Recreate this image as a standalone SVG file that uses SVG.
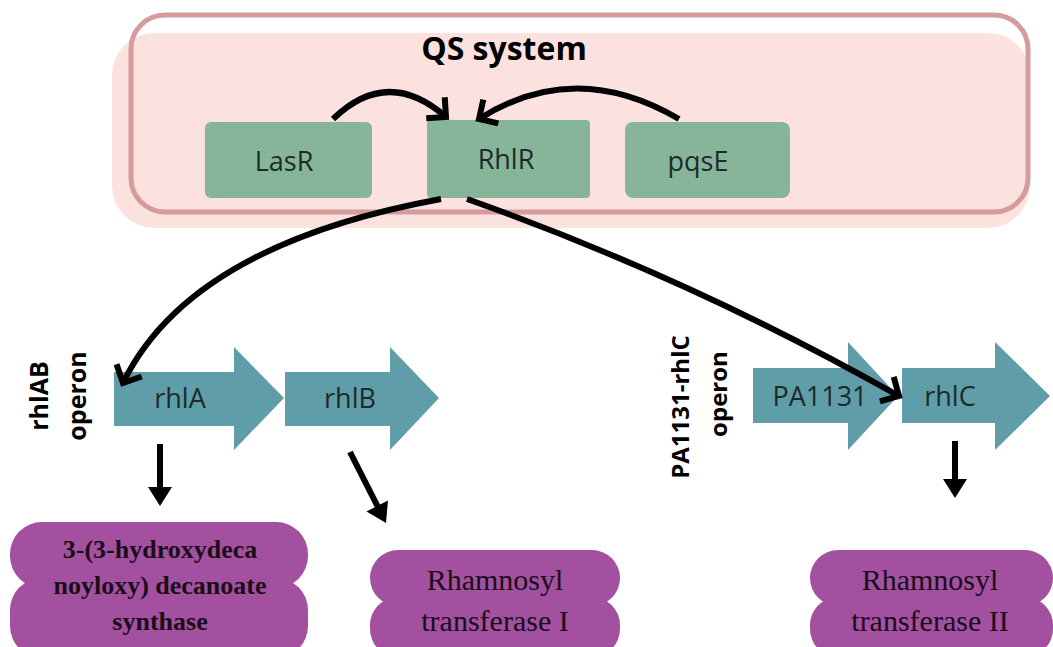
<svg xmlns="http://www.w3.org/2000/svg" width="1053" height="647" viewBox="0 0 1053 647">
<style>
.sans{font-family:"Open Sans","Noto Sans","Liberation Sans",sans-serif;fill:#1c2a2a}
.lbl{font-size:27px;text-anchor:middle}
.bold{font-weight:700;fill:#000}
.serif{font-family:"Liberation Serif","Times New Roman",serif;fill:#1a0d1a;text-anchor:middle}
.qs{fill:#86b59a}
.gene{fill:#5f9ea8}
.enz{fill:#a350a0}
.con{fill:none;stroke:#000;stroke-width:6;stroke-linecap:butt}
.head{fill:#000}
</style>
<defs>
<marker id="chev" markerUnits="userSpaceOnUse" viewBox="-20 -16 26 32" markerWidth="26" markerHeight="32" refX="0" refY="0" orient="auto" overflow="visible">
<path d="M-14,-14 L0,0 L-14,14" fill="none" stroke="#000" stroke-width="6" stroke-linejoin="miter"/>
</marker>
</defs>
<rect width="1053" height="647" fill="#fff"/>
<g id="qs-system">
<rect x="112" y="33" width="918" height="195" rx="42" fill="#fce2df"/>
<rect x="131" y="15" width="897" height="197" rx="34" fill="none" stroke="#d49c9c" stroke-width="5"/>
<text class="sans bold" x="504" y="60" font-size="32" text-anchor="middle">QS system</text>
</g>
<g id="LasR">
<rect class="qs" x="205" y="122" width="167" height="76" rx="6"/>
<text class="sans lbl" x="284" y="171">LasR</text>
</g>
<g id="RhlR">
<rect class="qs" x="427" y="120" width="163" height="78" rx="4"/>
<text class="sans lbl" x="506" y="169">RhlR</text>
</g>
<g id="pqsE">
<rect class="qs" x="625" y="122" width="165" height="76" rx="8"/>
<text class="sans lbl" x="698" y="171">pqsE</text>
</g>
<g id="rhlAB-operon">
<text class="sans bold" font-size="25" text-anchor="middle" transform="translate(48,396) rotate(-90)">rhlAB</text>
<text class="sans bold" font-size="25" text-anchor="middle" transform="translate(86,396) rotate(-90)">operon</text>
</g>
<g id="rhlA">
<path class="gene" d="M114,372 H234 V347 L284,398 L234,450 V426 H114 Z"/>
<text class="sans lbl" x="180" y="408">rhlA</text>
</g>
<g id="rhlB">
<path class="gene" d="M285,372 H390 V347 L439,398 L390,450 V426 H285 Z"/>
<text class="sans lbl" x="350" y="408">rhlB</text>
</g>
<g id="PA1131-rhlC-operon">
<text class="sans bold" font-size="24" text-anchor="middle" transform="translate(689,407) rotate(-90)">PA1131-rhlC</text>
<text class="sans bold" font-size="24" text-anchor="middle" transform="translate(727,394) rotate(-90)">operon</text>
</g>
<g id="PA1131">
<path class="gene" d="M753,368 H848 V342 L898,396 L848,450 V423 H753 Z"/>
<text class="sans lbl" x="820" y="406">PA1131</text>
</g>
<g id="rhlC">
<path class="gene" d="M902,368 H995 V342 L1050,396 L995,450 V423 H902 Z"/>
<text class="sans lbl" x="950" y="406">rhlC</text>
</g>
<g id="enzyme-1">
<rect class="enz" x="10" y="522" width="298" height="66" rx="32"/>
<rect class="enz" x="10" y="578" width="298" height="80" rx="32"/>
<text class="serif" font-weight="700" font-size="26" x="160" y="558">3-(3-hydroxydeca</text>
<text class="serif" font-weight="700" font-size="26" x="160" y="594">noyloxy) decanoate</text>
<text class="serif" font-weight="700" font-size="26" x="160" y="630">synthase</text>
</g>
<g id="enzyme-2">
<rect class="enz" x="370" y="550" width="250" height="56" rx="28"/>
<rect class="enz" x="370" y="597" width="250" height="60" rx="28"/>
<text class="serif" font-size="30" x="495" y="590">Rhamnosyl</text>
<text class="serif" font-size="30" x="495" y="631">transferase I</text>
</g>
<g id="enzyme-3">
<rect class="enz" x="810" y="550" width="243" height="56" rx="28"/>
<rect class="enz" x="810" y="597" width="243" height="60" rx="28"/>
<text class="serif" font-size="30" x="930" y="590">Rhamnosyl</text>
<text class="serif" font-size="30" x="930" y="631">transferase II</text>
</g>
<g id="connectors">
<path class="con" d="M333,119 Q388,66 446,117" marker-end="url(#chev)"/>
<path class="con" d="M679,119 Q575,58 479,119" marker-end="url(#chev)"/>
<path class="con" d="M441,199 Q190,245 123,383" marker-end="url(#chev)"/>
<path class="con" d="M467,199 Q690,278 899,396" marker-end="url(#chev)"/>
<path class="con" d="M160,444 V490"/>
<path class="head" d="M148,487 L172,487 L160,506 Z"/>
<path class="con" d="M350,452 L380,511"/>
<path class="head" d="M366.5,511.5 L388,500.5 L386,523 Z"/>
<path class="con" d="M955,441 V482"/>
<path class="head" d="M943,479 L967,479 L955,498 Z"/>
</g>
</svg>
